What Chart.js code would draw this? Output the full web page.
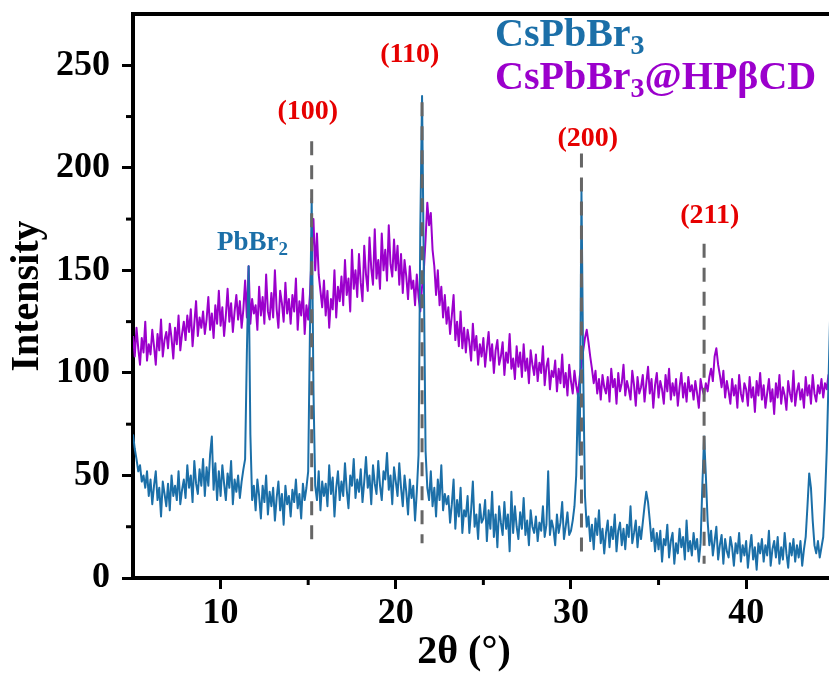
<!DOCTYPE html>
<html>
<head>
<meta charset="utf-8">
<script src="https://cdn.jsdelivr.net/npm/chart.js@4.4.1/dist/chart.umd.min.js"></script>
<style>
  html, body { margin: 0; padding: 0; background: #fff; overflow: hidden; }
  #xrd { display: block; }
</style>
</head>
<body>
<canvas id="xrd" width="829" height="675"></canvas>
<script>
// XRD patterns, 2θ sampled every 0.1° starting at 5°
const seriesNames = ['CsPbBr_3', 'CsPbBr_3@HPβCD'];
const thetaStart = 5.0;
const thetaStep = 0.1;

const cspbbr3 = [
  70, 63, 58, 52, 55, 47, 50, 44, 52, 40,
  48, 36, 45, 52, 38, 44, 30, 47, 41, 35,
  46, 33, 50, 40, 45, 38, 52, 36, 43, 48,
  39, 55, 44, 50, 37, 57, 46, 41, 53, 45,
  58, 40, 54, 45, 60, 69, 43, 56, 38, 52,
  40, 55, 46, 38, 51, 44, 57, 36, 48, 42,
  50, 39, 47, 53, 58, 110, 152, 70, 38, 45,
  33, 48, 40, 29, 45, 37, 50, 31, 42, 35,
  44, 28, 39, 47, 33, 41, 26, 45, 36, 40,
  30, 43, 37, 48, 34, 41, 29, 46, 38, 44,
  52, 120, 185, 92, 45, 38, 52, 33, 47, 40,
  46, 35, 55, 41, 49, 30, 44, 52, 38, 47,
  40, 56, 43, 34, 50, 45, 58, 39, 48, 42,
  53, 37, 47, 59, 44, 50, 36, 55, 46, 41,
  57, 45, 38, 52, 48, 61, 43, 50, 36, 54,
  47, 40, 56, 44, 35, 50, 42, 31, 48, 39,
  45, 28, 42, 60, 170, 235, 150, 62, 44, 38,
  52, 35, 44, 30, 48, 38, 55, 33, 41, 36,
  40, 27, 36, 48, 24, 38, 30, 44, 22, 33,
  30, 40, 22, 33, 47, 25, 31, 19, 36, 27,
  29, 38, 18, 33, 24, 42, 20, 31, 15, 35,
  27, 21, 37, 24, 31, 13, 42, 22, 35, 25,
  19, 32, 24, 39, 21, 28, 16, 33, 25, 22,
  30, 18, 27, 23, 35, 20, 26, 52, 21, 28,
  24, 16, 31, 22, 27, 37, 19, 25, 32, 21,
  23, 28, 35, 50, 90, 60, 189, 100, 40, 25,
  30, 18, 26, 14, 29, 21, 33, 17, 24, 12,
  22, 28, 15, 25, 19, 31, 13, 23, 27, 16,
  24, 14, 26, 20, 35, 17, 22, 28, 15, 25,
  19, 27, 35, 42, 37, 28, 18, 24, 13, 22,
  14, 23, 8, 19, 16, 26, 10, 18, 22, 7,
  17, 12, 24, 15, 20, 9, 28, 13, 18, 11,
  22, 14, 19, 8, 17, 45, 69, 50, 28, 16,
  23, 11, 18, 25, 9, 16, 21, 7, 19, 13,
  10, 20, 15, 6, 17, 12, 22, 8, 16, 11,
  18, 5, 14, 21, 9, 15, 4, 17, 12, 19,
  8, 16, 11, 23, 6, 14, 18, 10, 20, 7,
  15, 9, 22, 12, 5, 17, 11, 19, 8, 16,
  10, 18, 6, 14, 20, 35, 51, 44, 28, 16,
  12, 18, 10, 15, 20, 38, 62, 95, 130
];

const cspbbr3Hp = [
  118, 108, 122, 112, 104, 117, 110, 125, 106, 114,
  109, 121, 113, 104, 119, 111, 126, 108, 116, 120,
  112, 124, 117, 107, 122, 114, 128, 111, 119, 125,
  116, 128, 120, 131, 113, 124, 135, 118, 127, 122,
  130, 119, 126, 137, 121, 129, 117, 133, 124, 140,
  123, 132, 118, 128, 141, 125, 134, 120, 130, 138,
  126, 135, 122, 131, 145, 127, 152, 124, 136, 129,
  133, 121, 142, 128, 137, 124, 148, 130, 126, 139,
  127, 150, 131, 122, 140, 134, 125, 144, 129, 136,
  124, 138, 130, 146, 121, 135, 128, 141, 119, 133,
  126, 138, 158, 175, 150, 168, 148, 140, 132, 145,
  128, 140, 122, 136, 131, 150, 127, 142, 135, 147,
  133, 155, 138, 146, 130, 160, 141, 150, 137, 158,
  144, 135, 162, 148, 140, 166, 151, 143, 170, 146,
  155, 141, 168, 150, 160, 145, 172, 153, 147, 165,
  150, 162, 143, 158, 139, 155, 147, 136, 152, 141,
  145, 133, 148, 137, 130, 142, 150, 165, 183, 172,
  178, 160, 152, 138, 150, 133, 142, 127, 138, 124,
  132, 119, 128, 138, 116, 125, 113, 130, 112, 122,
  110, 121, 115, 106, 124, 111, 118, 104, 114, 108,
  117, 103, 112, 120, 106, 114, 100, 111, 116, 104,
  108, 115, 99, 110, 105, 119, 102, 107, 97, 113,
  103, 110, 98, 114, 101, 107, 95, 111, 104, 99,
  109, 96, 105, 100, 113, 94, 103, 107, 92, 101,
  98, 106, 91, 102, 95, 109, 93, 100, 89, 104,
  96, 90, 101, 94, 89, 98, 104, 111, 117, 121,
  115, 108, 102, 95, 101, 90, 97, 87, 99, 93,
  90, 98, 86, 102, 93, 97, 85, 100, 91, 95,
  104, 89, 96, 92, 87, 101, 94, 84, 98, 90,
  93, 99, 86, 95, 103, 90, 97, 83, 94, 100,
  88, 96, 92, 85, 99, 91, 102, 87, 95, 89,
  97, 84, 93, 100, 88, 95, 86, 98, 91, 94,
  87, 96, 90, 83, 97, 92, 89, 95, 91, 98,
  102, 96, 108, 112, 104, 99, 93, 101, 88, 96,
  91, 85, 97, 89, 94, 83, 99, 90, 86, 95,
  92, 84, 98, 88, 93, 81, 96, 89, 100, 87,
  94, 83, 90, 97, 86, 92, 80, 95, 88, 99,
  85, 93, 89, 82, 96, 90, 86, 101, 84, 91,
  95, 87, 92, 83, 98, 89, 94, 85, 99, 90,
  86, 94, 90, 97, 88, 95, 92, 99, 97
];

// reference peaks (dashed markers)
const peakLabels = ['(100)', '(110)', '(200)', '(211)'];
const peakTheta = [15.2, 21.5, 30.6, 37.6];
const dashTop = [213, 232, 207, 163];
const dashBottom = [14, 17, 8, 7];
const impurityLabel = 'PbBr_2';

const xTicks = [10, 20, 30, 40];
const xMinorTicks = [15, 25, 35];
const yTicks = [0, 50, 100, 150, 200, 250];
const yMinorTicks = [25, 75, 125, 175, 225];

const blue = '#1b6fa8';
const purple = '#9b00cc';
const red = '#e60000';
const serif = '"Liberation Serif", "Times New Roman", serif';

const twoTheta = cspbbr3.map((_, i) => +(thetaStart + i * thetaStep).toFixed(1));

// where the texts sit (label anchors in data units, legend in pixels)
const peakLabelSpots = [[14.98, 224], [20.8, 251.5], [30.96, 210.4], [37.92, 173.3]];
const impuritySpot = [9.79, 160];
const legendSpots = [[495, 46], [495, 89]];

// draws text with _n turned into a subscript n
function drawRich(ctx, str, x, y, size, color, align) {
  const parts = str.split(/_(\d)/);
  const big = `bold ${size}px ${serif}`;
  const small = `bold ${Math.round(size * 0.7)}px ${serif}`;
  ctx.textAlign = 'left';
  ctx.textBaseline = 'alphabetic';
  ctx.fillStyle = color;
  let w = 0;
  parts.forEach((p, i) => { ctx.font = i % 2 ? small : big; w += ctx.measureText(p).width; });
  let cx = align === 'center' ? x - w / 2 : x;
  parts.forEach((p, i) => {
    ctx.font = i % 2 ? small : big;
    ctx.fillText(p, cx, y + (i % 2 ? size * 0.2 : 0));
    cx += ctx.measureText(p).width;
  });
}

const textLayer = {
  id: 'textLayer',
  afterDraw(chart) {
    const { ctx, chartArea: a, scales: { x, y } } = chart;
    ctx.save();
    ctx.strokeStyle = '#000';
    ctx.lineWidth = 4;
    ctx.beginPath();
    ctx.moveTo(a.left - 2, a.top);
    ctx.lineTo(a.right, a.top);
    ctx.stroke();

    ctx.lineWidth = 3;
    yMinorTicks.forEach(v => {
      const py = y.getPixelForValue(v);
      ctx.beginPath(); ctx.moveTo(a.left - 7, py); ctx.lineTo(a.left, py); ctx.stroke();
    });
    xMinorTicks.forEach(v => {
      const px = x.getPixelForValue(v);
      ctx.beginPath(); ctx.moveTo(px, a.bottom); ctx.lineTo(px, a.bottom + 7); ctx.stroke();
    });

    peakLabels.forEach((t, i) => {
      const [lx, ly] = peakLabelSpots[i];
      drawRich(ctx, t, x.getPixelForValue(lx), y.getPixelForValue(ly), 28, red, 'center');
    });
    drawRich(ctx, impurityLabel, x.getPixelForValue(impuritySpot[0]), y.getPixelForValue(impuritySpot[1]), 27, blue, 'left');

    drawRich(ctx, seriesNames[0], legendSpots[0][0], legendSpots[0][1], 40, blue, 'left');
    drawRich(ctx, seriesNames[1], legendSpots[1][0], legendSpots[1][1], 40, purple, 'left');

    ctx.font = `bold 40px ${serif}`;
    ctx.fillStyle = '#000';
    ctx.textAlign = 'center';
    ctx.textBaseline = 'alphabetic';
    ctx.fillText('2θ (°)', 464, 663);
    ctx.restore();
  }
};

const tickFont = { family: serif, size: 36, weight: 'bold' };

// keep the plot box where the figure has it, no extra label padding
function noPad(s) {
  s.paddingTop = 0; s.paddingBottom = 0; s.paddingLeft = 0; s.paddingRight = 0;
}

new Chart(document.getElementById('xrd'), {
  type: 'line',
  data: {
    datasets: [
      {
        label: seriesNames[0],
        data: twoTheta.map((t, i) => ({ x: t, y: cspbbr3[i] })),
        borderColor: blue, borderWidth: 2, borderJoinStyle: 'round',
        pointRadius: 0, order: 1
      },
      {
        label: seriesNames[1],
        data: twoTheta.map((t, i) => ({ x: t, y: cspbbr3Hp[i] })),
        borderColor: purple, borderWidth: 2, borderJoinStyle: 'round',
        pointRadius: 0, order: 2
      },
      ...peakTheta.map((t, i) => ({
        label: peakLabels[i],
        data: [{ x: t, y: dashTop[i] }, { x: t, y: dashBottom[i] }],
        borderColor: '#666', borderWidth: 3, borderDash: [14, 10],
        pointRadius: 0, order: 0
      }))
    ]
  },
  options: {
    responsive: false,
    animation: false,
    events: [],
    layout: { padding: { top: 14, right: 0, bottom: 0, left: 0 } },
    elements: { line: { tension: 0 } },
    plugins: { legend: { display: false }, tooltip: { enabled: false } },
    scales: {
      x: {
        type: 'linear', min: 5, max: 44.73,
        afterBuildTicks: s => { s.ticks = xTicks.map(v => ({ value: v })); },
        afterFit: s => { s.height = 97; noPad(s); },
        grid: { drawOnChartArea: false, tickLength: 11, tickWidth: 3, tickColor: '#000' },
        border: { display: true, color: '#000', width: 4 },
        ticks: { font: tickFont, color: '#000', padding: 3, maxRotation: 0, autoSkip: false }
      },
      y: {
        min: 0, max: 275,
        afterBuildTicks: s => { s.ticks = yTicks.map(v => ({ value: v })); },
        afterFit: s => { s.width = 133; noPad(s); },
        grid: { drawOnChartArea: false, tickLength: 11, tickWidth: 3, tickColor: '#000' },
        border: { display: true, color: '#000', width: 4 },
        ticks: { font: tickFont, color: '#000', padding: 12, autoSkip: false },
        title: {
          display: true, text: 'Intensity', color: '#000',
          font: { family: serif, size: 40, weight: 'bold' },
          padding: { top: 4, bottom: 4 }
        }
      }
    }
  },
  plugins: [textLayer]
});
</script>
</body>
</html>
